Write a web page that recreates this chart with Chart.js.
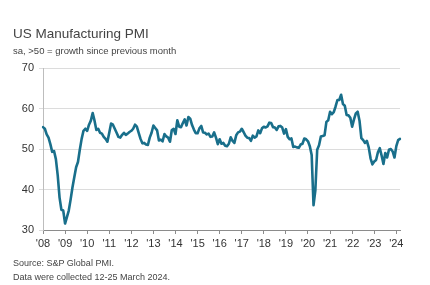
<!DOCTYPE html>
<html>
<head>
<meta charset="utf-8">
<script src="https://cdn.jsdelivr.net/npm/chart.js@4"></script>
<style>
  body { margin: 0; width: 430px; height: 285px; background: #fff; font-family: "Liberation Sans", Arial, sans-serif; overflow: hidden; }
  #wrap { position: absolute; left: 0; top: 0; width: 430px; height: 285px; }
  .txt { position: absolute; left: 13px; color: #333; white-space: nowrap; }
  #title { top: 26px; font-size: 13.5px; color: #444; }
  #sub { top: 45px; font-size: 9.5px; color: #444; }
  #src { top: 258px; font-size: 9px; color: #444; }
  #note { top: 272px; font-size: 9px; color: #444; }
</style>
</head>
<body>
<div id="wrap"><canvas id="PmiChart" width="430" height="285"></canvas></div>
<div class="txt" id="title">US Manufacturing PMI</div>
<div class="txt" id="sub">sa, &gt;50 = growth since previous month</div>
<div class="txt" id="src">Source: S&amp;P Global PMI.</div>
<div class="txt" id="note">Data were collected 12-25 March 2024.</div>
<script>
// monthly values, Jan 2008 .. Mar 2024
var years = ['08','09','10','11','12','13','14','15','16','17','18','19','20','21','22','23','24'];
var pmi2008 = [55.4, 55.0, 53.6, 52.8, 51.2, 49.3, 49.5, 47.5, 43.5, 38.0, 35.0, 34.8];
var pmi2009 = [31.6, 33.2, 34.8, 37.5, 40.5, 43.0, 45.5, 46.8, 49.8, 52.5, 54.5, 55.0];
var pmi2010 = [54.5, 56.0, 57.0, 58.9, 57.0, 54.7, 55.0, 54.0, 53.8, 53.0, 52.5, 51.8];
var pmi2011 = [54.0, 56.3, 56.0, 55.0, 54.0, 53.0, 52.8, 53.5, 54.0, 53.5, 53.8, 54.2];
var pmi2012 = [54.5, 55.0, 56.0, 55.5, 54.0, 52.5, 51.4, 51.5, 51.1, 51.0, 52.8, 54.0];
var pmi2013 = [55.8, 55.2, 54.6, 52.1, 52.3, 51.9, 53.7, 53.1, 52.8, 51.8, 54.7, 55.0];
var pmi2014 = [53.7, 57.1, 55.5, 55.4, 56.4, 57.3, 55.8, 57.9, 57.5, 55.9, 54.8, 53.9];
var pmi2015 = [53.9, 55.1, 55.7, 54.1, 54.0, 53.6, 53.8, 53.0, 53.1, 54.1, 52.8, 51.2];
var pmi2016 = [52.4, 51.3, 51.5, 50.8, 50.7, 51.3, 52.9, 52.0, 51.5, 53.4, 54.1, 54.3];
var pmi2017 = [55.0, 54.2, 53.3, 52.8, 52.7, 52.0, 53.3, 52.8, 53.1, 54.6, 53.9, 55.1];
var pmi2018 = [55.5, 55.3, 55.6, 56.5, 56.4, 55.4, 55.3, 54.7, 55.6, 55.7, 55.3, 53.8];
var pmi2019 = [54.9, 53.0, 52.4, 52.6, 50.5, 50.6, 50.4, 50.3, 51.1, 51.3, 52.6, 52.4];
var pmi2020 = [51.9, 50.7, 48.5, 36.1, 39.8, 49.8, 50.9, 53.1, 53.2, 53.4, 56.7, 57.1];
var pmi2021 = [59.2, 58.6, 59.1, 60.5, 62.1, 62.1, 63.4, 61.1, 60.7, 58.4, 58.3, 57.7];
var pmi2022 = [55.5, 57.3, 58.8, 59.2, 57.0, 52.7, 52.2, 51.5, 52.0, 50.4, 47.7, 46.2];
var pmi2023 = [46.9, 47.3, 49.2, 50.2, 48.4, 46.3, 49.0, 47.9, 49.8, 50.0, 49.4, 47.9];
var pmi2024 = [50.7, 52.2, 52.5];
var yTicks = [30, 40, 50, 60, 70];

var values = [].concat(pmi2008, pmi2009, pmi2010, pmi2011, pmi2012, pmi2013, pmi2014, pmi2015,
    pmi2016, pmi2017, pmi2018, pmi2019, pmi2020, pmi2021, pmi2022, pmi2023, pmi2024);
var labels = [];
for (var i = 0; i < values.length; i++) {
    labels.push(i % 12 === 0 ? "'" + years[i / 12] : '');
}

var ctx = document.getElementById('PmiChart').getContext('2d');
window.PmiChart = new Chart(ctx, {
    type: 'line',
    data: {
        labels: labels,
        datasets: [{
            data: values,
            borderColor: '#196f8b',
            borderWidth: 2.6,
            pointRadius: 0,
            tension: 0,
            borderJoinStyle: 'round',
            borderCapStyle: 'round'
        }]
    },
    options: {
        responsive: false,
        animation: false,
        layout: { padding: { top: 68, right: 30, left: 0, bottom: 0 } },
        plugins: { legend: { display: false }, tooltip: { enabled: false } },
        scales: {
            x: {
                offset: false,
                afterFit: function (scale) { scale.height = 55; },
                border: { display: true, color: '#8c8c8c', width: 1 },
                grid: {
                    drawOnChartArea: false,
                    tickLength: 4,
                    color: function (c) { return c.index % 12 === 0 ? '#8c8c8c' : 'rgba(0,0,0,0)'; }
                },
                ticks: {
                    autoSkip: false,
                    maxRotation: 0,
                    padding: 3,
                    color: '#333',
                    font: { family: 'Liberation Sans', size: 11 }
                }
            },
            y: {
                min: 30,
                max: 70,
                afterFit: function (scale) { scale.width = 43; },
                afterBuildTicks: function (scale) { scale.ticks = yTicks.map(function (v) { return { value: v }; }); },
                border: { display: true, color: '#bdbdbd', width: 1 },
                grid: { color: '#dcdcdc', tickLength: 4 },
                ticks: {
                    padding: 5,
                    color: '#333',
                    font: { family: 'Liberation Sans', size: 11 }
                }
            }
        }
    }
});
</script>
</body>
</html>
